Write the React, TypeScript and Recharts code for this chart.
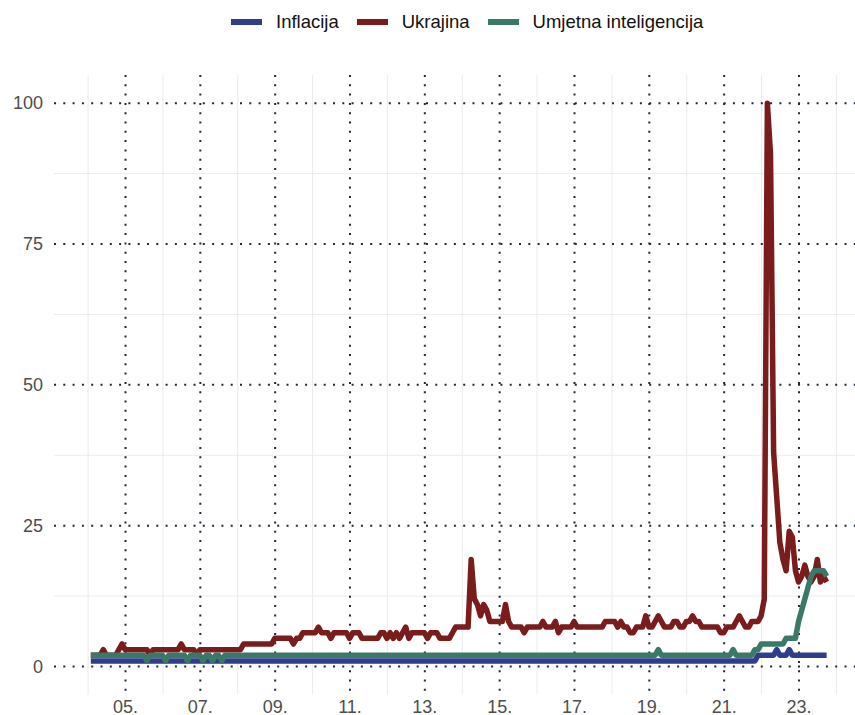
import React from 'react';
import { LineChart, Line, XAxis, YAxis, CartesianGrid } from 'recharts';

// Monthly series, Jan 2004 .. Sep 2023 (one row per year)
const START_YEAR = 2004;
const MONTH_OFFSET = 0.87; // points sit late in each month

const inflacija = [
  1, 1, 1, 1, 1, 1, 1, 1, 1, 1, 1, 1, // 2004
  1, 1, 1, 1, 1, 1, 1, 1, 1, 1, 1, 1, // 2005
  1, 1, 1, 1, 1, 1, 1, 1, 1, 1, 1, 1, // 2006
  1, 1, 1, 1, 1, 1, 1, 1, 1, 1, 1, 1, // 2007
  1, 1, 1, 1, 1, 1, 1, 1, 1, 1, 1, 1, // 2008
  1, 1, 1, 1, 1, 1, 1, 1, 1, 1, 1, 1, // 2009
  1, 1, 1, 1, 1, 1, 1, 1, 1, 1, 1, 1, // 2010
  1, 1, 1, 1, 1, 1, 1, 1, 1, 1, 1, 1, // 2011
  1, 1, 1, 1, 1, 1, 1, 1, 1, 1, 1, 1, // 2012
  1, 1, 1, 1, 1, 1, 1, 1, 1, 1, 1, 1, // 2013
  1, 1, 1, 1, 1, 1, 1, 1, 1, 1, 1, 1, // 2014
  1, 1, 1, 1, 1, 1, 1, 1, 1, 1, 1, 1, // 2015
  1, 1, 1, 1, 1, 1, 1, 1, 1, 1, 1, 1, // 2016
  1, 1, 1, 1, 1, 1, 1, 1, 1, 1, 1, 1, // 2017
  1, 1, 1, 1, 1, 1, 1, 1, 1, 1, 1, 1, // 2018
  1, 1, 1, 1, 1, 1, 1, 1, 1, 1, 1, 1, // 2019
  1, 1, 1, 1, 1, 1, 1, 1, 1, 1, 1, 1, // 2020
  1, 1, 1, 1, 1, 1, 1, 1, 1, 1, 2, 2, // 2021
  2, 2, 2, 2, 3, 2, 2, 2, 3, 2, 2, 2, // 2022
  2, 2, 2, 2, 2, 2, 2, 2, 2,          // 2023
];

const ukrajina = [
  2, 2, 2, 2, 3, 2, 2, 2, 2, 3, 4, 3, // 2004
  3, 3, 3, 3, 3, 3, 3, 2, 3, 3, 3, 3, // 2005
  3, 3, 3, 3, 3, 4, 3, 3, 3, 3, 2, 3, // 2006
  3, 3, 3, 3, 3, 3, 3, 3, 3, 3, 3, 3, // 2007
  3, 4, 4, 4, 4, 4, 4, 4, 4, 4, 4, 5, // 2008
  5, 5, 5, 5, 5, 4, 5, 5, 6, 6, 6, 6, // 2009
  6, 7, 6, 6, 6, 5, 6, 6, 6, 6, 6, 5, // 2010
  6, 6, 6, 5, 5, 5, 5, 5, 5, 6, 6, 5, // 2011
  6, 5, 6, 5, 6, 7, 5, 6, 6, 6, 6, 6, // 2012
  5, 6, 6, 6, 5, 5, 5, 5, 6, 7, 7, 7, // 2013
  7, 7, 19, 12, 11, 9, 11, 10, 8, 8, 8, 8, // 2014
  8, 11, 8, 7, 7, 7, 7, 6, 7, 7, 7, 7, // 2015
  7, 8, 7, 7, 7, 8, 6, 7, 7, 7, 7, 8, // 2016
  7, 7, 7, 7, 7, 7, 7, 7, 7, 8, 8, 8, // 2017
  8, 7, 8, 7, 7, 6, 6, 7, 7, 7, 9, 7, // 2018
  7, 8, 9, 8, 7, 7, 7, 8, 8, 7, 7, 8, // 2019
  8, 9, 8, 8, 7, 7, 7, 7, 7, 7, 6, 6, // 2020
  7, 7, 7, 8, 9, 8, 7, 7, 8, 8, 8, 9, // 2021
  12, 100, 91, 38, 30, 22, 19, 17, 24, 23, 17, 15, // 2022
  16, 18, 16, 15, 16, 19, 15, 16, 15, // 2023
];

const umjetnaInteligencija = [
  2, 2, 2, 2, 2, 2, 2, 2, 2, 2, 2, 2, // 2004
  2, 2, 2, 2, 2, 2, 1, 2, 2, 2, 2, 2, // 2005
  1, 2, 2, 2, 2, 2, 2, 1, 2, 2, 2, 2, // 2006
  1, 2, 2, 1, 2, 2, 1, 2, 2, 2, 2, 2, // 2007
  2, 2, 2, 2, 2, 2, 2, 2, 2, 2, 2, 2, // 2008
  2, 2, 2, 2, 2, 2, 2, 2, 2, 2, 2, 2, // 2009
  2, 2, 2, 2, 2, 2, 2, 2, 2, 2, 2, 2, // 2010
  2, 2, 2, 2, 2, 2, 2, 2, 2, 2, 2, 2, // 2011
  2, 2, 2, 2, 2, 2, 2, 2, 2, 2, 2, 2, // 2012
  2, 2, 2, 2, 2, 2, 2, 2, 2, 2, 2, 2, // 2013
  2, 2, 2, 2, 2, 2, 2, 2, 2, 2, 2, 2, // 2014
  2, 2, 2, 2, 2, 2, 2, 2, 2, 2, 2, 2, // 2015
  2, 2, 2, 2, 2, 2, 2, 2, 2, 2, 2, 2, // 2016
  2, 2, 2, 2, 2, 2, 2, 2, 2, 2, 2, 2, // 2017
  2, 2, 2, 2, 2, 2, 2, 2, 2, 2, 2, 2, // 2018
  2, 2, 3, 2, 2, 2, 2, 2, 2, 2, 2, 2, // 2019
  2, 2, 2, 2, 2, 2, 2, 2, 2, 2, 2, 2, // 2020
  2, 2, 3, 2, 2, 2, 2, 2, 2, 3, 3, 4, // 2021
  4, 4, 4, 4, 4, 4, 4, 5, 5, 5, 5, 8, // 2022
  10, 12, 14, 16, 17, 17, 17, 17, 16, // 2023
];

const seriesNames = ['Inflacija', 'Ukrajina', 'Umjetna inteligencija'];
const seriesKeys = ['inflacija', 'ukrajina', 'ai'];
const seriesColors = ['#2f3d8a', '#7a1c1c', '#3a7868'];

const yTicks = [0, 25, 50, 75, 100];
const yMinor = [12.5, 37.5, 62.5, 87.5];
const xTickYears = [2005, 2007, 2009, 2011, 2013, 2015, 2017, 2019, 2021, 2023];
const xTickLabels = ['05.', '07.', '09.', '11.', '13.', '15.', '17.', '19.', '21.', '23.'];
const xMinorYears = [2004, 2006, 2008, 2010, 2012, 2014, 2016, 2018, 2020, 2022, 2024];

const data = ukrajina.map((_, i) => ({
  t: START_YEAR + (i + MONTH_OFFSET) / 12,
  inflacija: inflacija[i],
  ukrajina: ukrajina[i],
  ai: umjetnaInteligencija[i],
}));

const FONT = '"Liberation Sans", Arial, Helvetica, sans-serif';
const DOT_COLOR = '#1e2838';

const YTick = (props: any) => {
  const { y, payload } = props;
  return (
    <text x={43} y={y} textAnchor="end" dominantBaseline="central" fontSize={18} fill="#4d4d4d" fontFamily={FONT}>
      {payload.value}
    </text>
  );
};

const XTick = (props: any) => {
  const { x, payload } = props;
  const idx = xTickYears.indexOf(payload.value);
  return (
    <text x={x} y={706.5} textAnchor="middle" dominantBaseline="central" fontSize={18} fill="#4d4d4d" fontFamily={FONT}>
      {idx >= 0 ? xTickLabels[idx] : ''}
    </text>
  );
};

export default function App() {
  return (
    <div style={{ position: 'absolute', left: 0, top: 0, width: 855, height: 715, overflow: 'hidden', background: '#ffffff' }}>
      <div
        style={{
          position: 'absolute',
          left: 231,
          top: 10,
          height: 24,
          display: 'flex',
          alignItems: 'center',
          fontFamily: FONT,
          fontSize: 18.5,
          color: '#111111',
          whiteSpace: 'nowrap',
          zIndex: 2,
        }}
      >
        {seriesNames.map((name, i) => (
          <div key={name} style={{ display: 'flex', alignItems: 'center', marginRight: 18 }}>
            <span style={{ display: 'inline-block', width: 31, height: 5.5, background: seriesColors[i], marginRight: 14 }} />
            <span>{name}</span>
          </div>
        ))}
      </div>
      <LineChart width={864} height={715} data={data} margin={{ top: 75, right: 0.6, bottom: 0, left: 0 }}>
        <CartesianGrid
          stroke="#ebebeb"
          strokeWidth={1}
          horizontalValues={yMinor}
          verticalValues={xMinorYears}
          syncWithTicks
        />
        <CartesianGrid stroke={DOT_COLOR} strokeWidth={2} strokeDasharray="2 7.3" syncWithTicks />
        <XAxis
          dataKey="t"
          type="number"
          domain={[2003.089, 2024.722]}
          ticks={xTickYears}
          interval={0}
          allowDataOverflow
          axisLine={false}
          tickLine={false}
          height={20.3}
          tick={<XTick />}
        />
        <YAxis
          type="number"
          domain={[-5, 105]}
          ticks={yTicks}
          interval={0}
          allowDataOverflow
          axisLine={false}
          tickLine={false}
          width={54}
          tick={<YTick />}
        />
        {seriesKeys.map((k, i) => (
          <Line
            key={k}
            type="linear"
            dataKey={k}
            name={seriesNames[i]}
            stroke={seriesColors[i]}
            strokeWidth={5.5}
            strokeLinejoin="round"
            strokeLinecap="butt"
            dot={false}
            activeDot={false}
            isAnimationActive={false}
          />
        ))}
      </LineChart>
    </div>
  );
}
